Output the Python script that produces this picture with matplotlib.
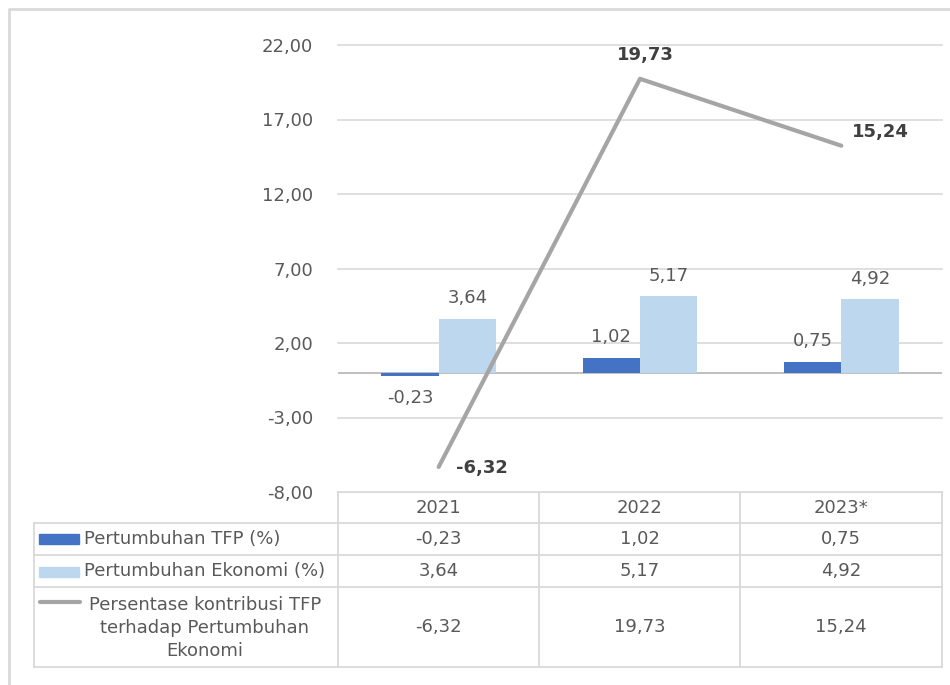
import numpy as np
import matplotlib
matplotlib.use("Agg")
from matplotlib import pyplot as plt
import matplotlib.ticker as mticker

plt.rcParams['font.family'] = ['DejaVu Sans']

years = ['2021', '2022', '2023*']
tfp = [-0.23, 1.02, 0.75]
ekonomi = [3.64, 5.17, 4.92]
kontribusi = [-6.32, 19.73, 15.24]
row_names = ['Pertumbuhan TFP (%)', 'Pertumbuhan Ekonomi (%)',
             'Persentase kontribusi TFP\nterhadap Pertumbuhan\nEkonomi']

dark = '#4472C4'
light = '#BDD7EE'
grey = '#A5A5A5'
txt = '#595959'
grid = '#D9D9D9'


def fmt(v):
    return ('%.2f' % v).replace('.', ',')


W, H = 950, 685
fig = plt.figure(figsize=(W / 100, H / 100), dpi=100)

# plot area in pixels: x 338..942, y 45..492
ax = fig.add_axes([338 / W, 1 - 492 / H, (942 - 338) / W, (492 - 45) / H])
x = np.arange(len(years))
bw = 0.285
ax.bar(x - bw / 2, tfp, bw, color=dark, zorder=3)
ax.bar(x + bw / 2, ekonomi, bw, color=light, zorder=3)
ax.plot(x, kontribusi, color=grey, lw=3, solid_capstyle='round', zorder=4)

ax.set_xlim(-0.5, 2.5)
ax.set_ylim(-8, 22)
ax.set_yticks(np.arange(-8, 23, 5))
ax.yaxis.set_major_formatter(mticker.FuncFormatter(lambda v, p: fmt(v)))
ax.set_xticks([])
ax.tick_params(axis='y', length=0, pad=18, labelsize=13, labelcolor=txt)
ax.grid(axis='y', color=grid, lw=1.2, zorder=0)
for gl in ax.get_ygridlines():
    gl.set_clip_on(False)
ax.axhline(0, color='#BFBFBF', lw=1.4, zorder=2)
for s in ax.spines.values():
    s.set_visible(False)

# data labels
for i, v in enumerate(tfp):
    off = 14.5 if v >= 0 else -15.5
    ax.annotate(fmt(v), (x[i] - bw / 2, v), xytext=(0, off), textcoords='offset points',
                ha='center', va='center', fontsize=13, color=txt)
for i, v in enumerate(ekonomi):
    ax.annotate(fmt(v), (x[i] + bw / 2, v), xytext=(0, 14.5), textcoords='offset points',
                ha='center', va='center', fontsize=13, color=txt)
line_offs = [(31, -0.5), (4, 17.5), (28, 10)]
for i, v in enumerate(kontribusi):
    ax.annotate(fmt(v), (x[i], v), xytext=line_offs[i], textcoords='offset points',
                ha='center', va='center', fontsize=13, color='#404040', fontweight='bold')

# data table + frame drawn in pixel coordinates
tax = fig.add_axes([0, 0, 1, 1], zorder=-1)
tax.set_xlim(0, W)
tax.set_ylim(H, 0)
tax.axis('off')
lc = '#D9D9D9'
# outer frame
tax.plot([9, 9, W], [H, 9, 9], color=lc, lw=2)

cols = [338, 539, 740, 942]
rows = [523, 555, 587, 667]
tax.plot([338, 942], [492, 492], color=lc, lw=1.3)
for cx in cols:
    tax.plot([cx, cx], [492, 667], color=lc, lw=1.3)
tax.plot([34, 34], [523, 667], color=lc, lw=1.3)
for ry in rows:
    tax.plot([34, 942], [ry, ry], color=lc, lw=1.3)

centers = [(cols[i] + cols[i + 1]) / 2 for i in range(3)]
for i, y in enumerate(years):
    tax.text(centers[i], 508, y, ha='center', va='center', fontsize=13, color=txt)
series = [tfp, ekonomi, kontribusi]
row_mid = [(rows[i] + rows[i + 1]) / 2 for i in range(3)]
for r, vals in enumerate(series):
    for i, v in enumerate(vals):
        tax.text(centers[i], row_mid[r], fmt(v), ha='center', va='center', fontsize=13, color=txt)

tax.text(84, row_mid[0], row_names[0], ha='left', va='center', fontsize=13, color=txt)
tax.text(84, row_mid[1], row_names[1], ha='left', va='center', fontsize=13, color=txt)
tax.text(205, row_mid[2] + 1, row_names[2], ha='center', va='center', multialignment='center',
         fontsize=13, color=txt, linespacing=1.38)
tax.add_patch(plt.Rectangle((39, 534), 40, 10, color=dark))
tax.add_patch(plt.Rectangle((39, 567), 40, 10, color=light))
tax.plot([40, 80], [602, 602], color=grey, lw=3, solid_capstyle='round')

fig.savefig('out.png', dpi=100)
